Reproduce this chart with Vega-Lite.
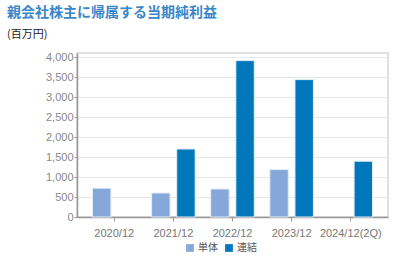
{
  "$schema": "https://vega.github.io/schema/vega-lite/v6.json",
  "width": 311,
  "height": 164,
  "autosize": {"type": "none"},
  "padding": {"left": 77, "top": 53, "right": 7, "bottom": 40},
  "background": "#ffffff",
  "title": {
    "text": "親会社株主に帰属する当期純利益",
    "subtitle": "(百万円)",
    "anchor": "start",
    "frame": "group",
    "dx": -70,
    "offset": 11,
    "font": "Noto Sans CJK JP",
    "fontSize": 14,
    "fontWeight": "bold",
    "color": "#3a86c8",
    "subtitleFont": "Noto Sans CJK JP",
    "subtitleFontSize": 11,
    "subtitleColor": "#222222",
    "subtitlePadding": 9
  },
  "data": {
    "values": [
      {"period": "2020/12", "type": "単体", "value": 720},
      {"period": "2021/12", "type": "単体", "value": 600},
      {"period": "2021/12", "type": "連結", "value": 1700},
      {"period": "2022/12", "type": "単体", "value": 700},
      {"period": "2022/12", "type": "連結", "value": 3910},
      {"period": "2023/12", "type": "単体", "value": 1185},
      {"period": "2023/12", "type": "連結", "value": 3435},
      {"period": "2024/12(2Q)", "type": "連結", "value": 1395}
    ]
  },
  "mark": {"type": "bar", "stroke": "#e4edf7", "strokeWidth": 1},
  "encoding": {
    "x": {
      "field": "period",
      "type": "nominal",
      "sort": null,
      "title": null,
      "scale": {"paddingInner": 0, "paddingOuter": 0.13},
      "axis": {
        "labelAngle": 0,
        "labelFont": "Liberation Sans",
        "labelFontSize": 11,
        "labelColor": "#777777",
        "labelPadding": 6,
        "tickSize": 4,
        "tickColor": "#999999",
        "domainColor": "#999999",
        "domainWidth": 1.5,
        "grid": false
      }
    },
    "xOffset": {
      "field": "type",
      "type": "nominal",
      "scale": {"domain": ["単体", "連結"], "paddingInner": 0.266, "paddingOuter": 0.31}
    },
    "y": {
      "field": "value",
      "type": "quantitative",
      "title": null,
      "scale": {"domain": [0, 4100], "nice": false},
      "axis": {
        "values": [0, 500, 1000, 1500, 2000, 2500, 3000, 3500, 4000],
        "format": ",d",
        "labelFont": "Liberation Sans",
        "labelFontSize": 11,
        "labelColor": "#888888",
        "labelPadding": 1,
        "tickSize": 3,
        "tickColor": "#999999",
        "domainColor": "#999999",
        "domainWidth": 1.5,
        "gridColor": "#e6e6e6"
      }
    },
    "color": {
      "field": "type",
      "type": "nominal",
      "scale": {"domain": ["単体", "連結"], "range": ["#85a7da", "#0077ba"]},
      "legend": {
        "title": null,
        "orient": "none",
        "direction": "horizontal",
        "legendX": 108,
        "legendY": 190,
        "symbolType": "square",
        "symbolSize": 60,
        "symbolStrokeWidth": 0,
        "labelFont": "Noto Sans CJK JP",
        "labelFontSize": 10,
        "labelColor": "#555555",
        "labelOffset": 3,
        "columnPadding": 6
      }
    }
  },
  "config": {
    "view": {"stroke": "#d6d6d6", "strokeWidth": 1.5}
  }
}
